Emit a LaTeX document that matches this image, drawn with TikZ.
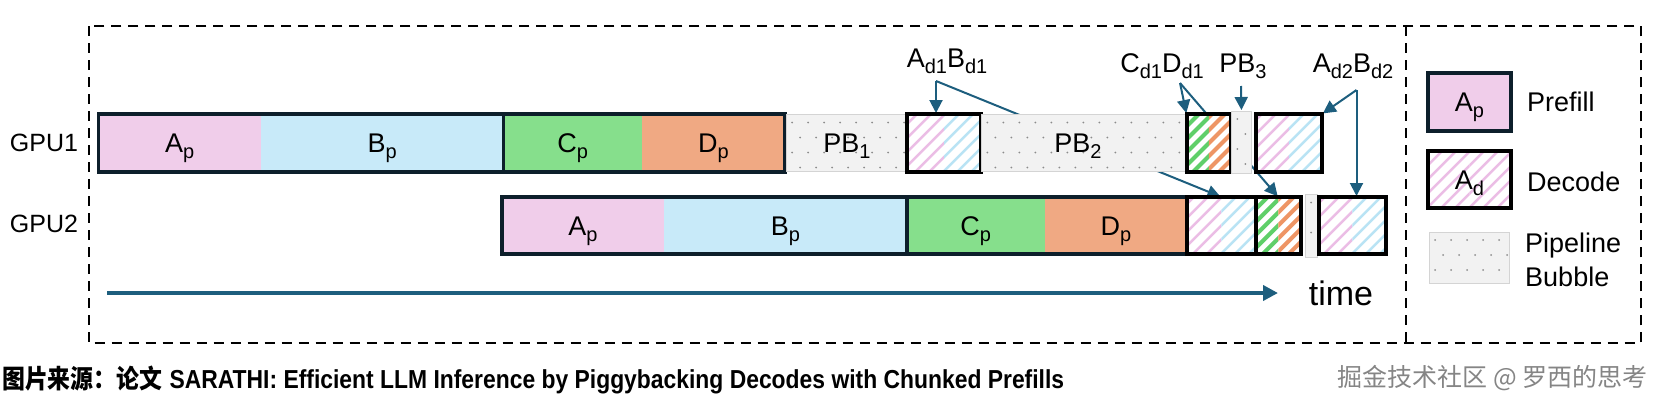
\documentclass[tikz,border=0pt]{standalone}
\usepackage{fontspec}
\setmainfont{Liberation Sans}
\newfontfamily\cjk{Noto Sans CJK SC}
\newfontfamily\capfont{Liberation Sans}[FakeStretch=0.88]
\newfontfamily\cjkcap{Noto Sans CJK SC}[FakeStretch=0.88]
\usetikzlibrary{arrows.meta,backgrounds}
\definecolor{cA}{HTML}{F0CDEA}
\definecolor{cB}{HTML}{C8EAF9}
\definecolor{cC}{HTML}{86DF8C}
\definecolor{cD}{HTML}{F0A983}
\definecolor{edge}{HTML}{0D1F2B}
\definecolor{conn}{HTML}{1D5E7E}
\definecolor{pbfill}{HTML}{F2F2F2}
\definecolor{pbedge}{HTML}{D4D4D4}
\definecolor{dotc}{HTML}{8C8C8C}
\definecolor{hA}{HTML}{EBBDE5}
\definecolor{hB}{HTML}{B9E3F4}
\definecolor{hC}{HTML}{5FCF69}
\definecolor{hD}{HTML}{EE9565}
\definecolor{wm}{HTML}{858585}
\newcommand\subtx[1]{\raisebox{-6pt}{\fontsize{20}{20}\selectfont #1}}
\newcommand\fsz[1]{\fontsize{#1}{#1}\selectfont}
\tikzset{
  seg/.style={anchor=north west, inner sep=0pt, outer sep=0pt, minimum height=58pt,
    text height=19pt, text depth=0pt, font=\fsz{27}},
  bar/.style={draw=edge, line width=3.5pt},
  hatch/.style n args={4}{path picture={
    \begin{scope}
      \clip (path picture bounding box.north west) rectangle (path picture bounding box.south);
      \foreach \k in {-8,...,8}
        \draw[#1, line width=#3, line cap=butt] ([xshift=\k*#4]path picture bounding box.center) ++(-60pt,-60pt) -- ++(120pt,120pt);
    \end{scope}
    \begin{scope}
      \clip (path picture bounding box.north) rectangle (path picture bounding box.south east);
      \foreach \k in {-8,...,8}
        \draw[#2, line width=#3, line cap=butt] ([xshift=\k*#4]path picture bounding box.center) ++(-60pt,-60pt) -- ++(120pt,120pt);
    \end{scope}
  }},
  dec/.style n args={4}{seg, draw=black, line width=4pt, fill=white, hatch={#1}{#2}{#3}{#4}},
  pb/.style={seg, fill=pbfill, draw=pbedge, line width=0.8pt, path picture={
    \foreach \i in {0,...,13} \foreach \j in {0,...,4}
      \fill[dotc] ([xshift={\i*16pt+mod(\j,2)*8pt+6pt}, yshift={-\j*15pt-8pt}]path picture bounding box.north west) circle[radius=1pt];
  }},
  toplbl/.style={font=\fsz{27}, anchor=base, inner sep=0pt},
  txt/.style={font=\fsz{27}, inner sep=0pt},
  cn/.style={draw=conn, line width=2pt, shorten >=1pt, -{Triangle[length=13pt,width=13pt]}},
  tl/.style={draw=conn, line width=4pt, -{Triangle[length=15pt,width=15pt]}},
  frame/.style={draw=black, line width=1.8pt, dash pattern=on 10pt off 7pt}
}
\begin{document}
\begin{tikzpicture}[x=1pt,y=-1pt]
\useasboundingbox (0,0) rectangle (1662,405);
% frame
\draw[frame] (88.6,26) rectangle (1641,343);
\draw[frame] (1406,26) -- (1406,343);
% GPU labels
\node[font=\fsz{25}, anchor=base, inner sep=0pt] (g1) at (44,151) {GPU1};
\node[font=\fsz{25}, anchor=base, inner sep=0pt] (g2) at (44,232) {GPU2};
% GPU1 row
\node[seg, fill=cA, minimum width=162.1pt] (A1) at (98.6,114) {A\subtx{p}};
\node[seg, fill=cB, minimum width=242.9pt] (B1) at (A1.north east) {B\subtx{p}};
\node[seg, fill=cC, minimum width=138.2pt] (C1) at (B1.north east) {C\subtx{p}};
\node[seg, fill=cD, minimum width=143.2pt] (D1) at (C1.north east) {D\subtx{p}};
\draw[bar] (A1.north west) rectangle (B1.south east);
\draw[bar] (C1.north west) rectangle (D1.south east);
\node[pb, minimum width=122pt, minimum height=57pt] (P1) at (786,114.5) {PB\subtx{1}};
\node[dec={hA}{hB}{2.5pt}{14pt}, minimum width=74.4pt] (E1) at (907,114) {};
\node[pb, minimum width=205.1pt, minimum height=57pt] (P2) at (981.4,114.5) {\hspace*{-12pt}PB\subtx{2}};
\node[dec={hC}{hD}{4pt}{13pt}, minimum width=44.9pt] (F1) at (1186.5,114) {};
\node[pb, minimum width=20.1pt, minimum height=62pt] (P3) at (1231.4,111) {};
\node[dec={hA}{hB}{2.5pt}{14pt}, minimum width=66.4pt] (E2) at (1255.6,114) {};
% GPU2 row
\node[seg, fill=cA, minimum width=162.2pt, minimum height=57pt] (A2) at (501.8,197) {A\subtx{p}};
\node[seg, fill=cB, minimum width=242.8pt, minimum height=57pt] (B2) at (A2.north east) {B\subtx{p}};
\node[seg, fill=cC, minimum width=137.8pt, minimum height=57pt] (C2) at (B2.north east) {C\subtx{p}};
\node[seg, fill=cD, minimum width=142.4pt, minimum height=57pt] (D2) at (C2.north east) {D\subtx{p}};
\draw[bar] (A2.north west) rectangle (B2.south east);
\draw[bar] (C2.north west) rectangle (D2.south east);
\node[dec={hA}{hB}{2.5pt}{14pt}, minimum width=68.6pt, minimum height=57pt] (E3) at (1187,197) {};
\node[dec={hC}{hD}{4pt}{13pt}, minimum width=45.4pt, minimum height=57pt] (F2) at (1255.6,197) {};
\node[pb, minimum width=12.6pt, minimum height=63pt] (P4) at (1305,194.5) {};
\node[dec={hA}{hB}{2.5pt}{14pt}, minimum width=66.1pt, minimum height=57pt] (E4) at (1319.4,197) {};
% top labels
\node[toplbl] (L1) at (947,67) {A\subtx{d1}B\subtx{d1}};
\node[toplbl] (L2) at (1162,72) {C\subtx{d1}D\subtx{d1}};
\node[toplbl] (L3) at (1243,72) {PB\subtx{3}};
\node[toplbl] (L4) at (1353,72) {A\subtx{d2}B\subtx{d2}};
\coordinate (k1) at (936,81);
\coordinate (k2) at (1180,83);
\coordinate (k3) at (1241,86);
\coordinate (k4) at (1356.5,90);
% time axis
\node[font=\fsz{34}, anchor=base, inner sep=0pt] (time) at (1341,305) {time};
\coordinate (ts) at (107,293);
\coordinate (te) at (1278,293);
% legend
\node[seg, fill=cA, draw=edge, line width=4pt, minimum width=83pt] (LA) at (1428,73) {A\subtx{p}};
\node[dec={hA}{hA}{2.5pt}{14pt}, minimum width=83pt, minimum height=57pt] (LD) at (1428,151) {A\subtx{d}};
\node[pb, minimum width=80.5pt, minimum height=51pt] (LB) at (1429,232) {};
\node[txt, anchor=base west] (tP) at (1527,111.7) {Prefill};
\node[txt, anchor=base west] (tD) at (1527,191.7) {Decode};
\node[txt, anchor=west, align=left, font=\fontsize{27}{34}\selectfont] (tB) at (1525,260) {Pipeline\\Bubble};
% caption and watermark
\node[anchor=west, inner sep=0pt, font=\fsz{26}] (cap) at (2,380) {{\cjkcap\bfseries 图片来源：论文} {\capfont\bfseries SARATHI: Efficient LLM Inference by Piggybacking Decodes with Chunked Prefills}};
\node[anchor=east, inner sep=0pt, font=\fsz{25}, text=wm] (wmk) at (1648,378) {\cjk 掘金技术社区 @ 罗西的思考};
% connectors behind boxes
\begin{pgfonlayer}{background}
\draw[cn] (k1) -- (k1 |- E1.north);
\draw[cn] (k1) -- (E3.north);
\draw[cn] (k2) -- (F1.north west);
\draw[cn] (k2) -- (F2.north);
\draw[cn] (k3) -- (P3.north);
\draw[cn] (k4) -- (E2.north east);
\draw[cn] (k4) -- (k4 |- E4.north);
\draw[tl] (ts) -- (te);
\end{pgfonlayer}
\end{tikzpicture}
\end{document}
